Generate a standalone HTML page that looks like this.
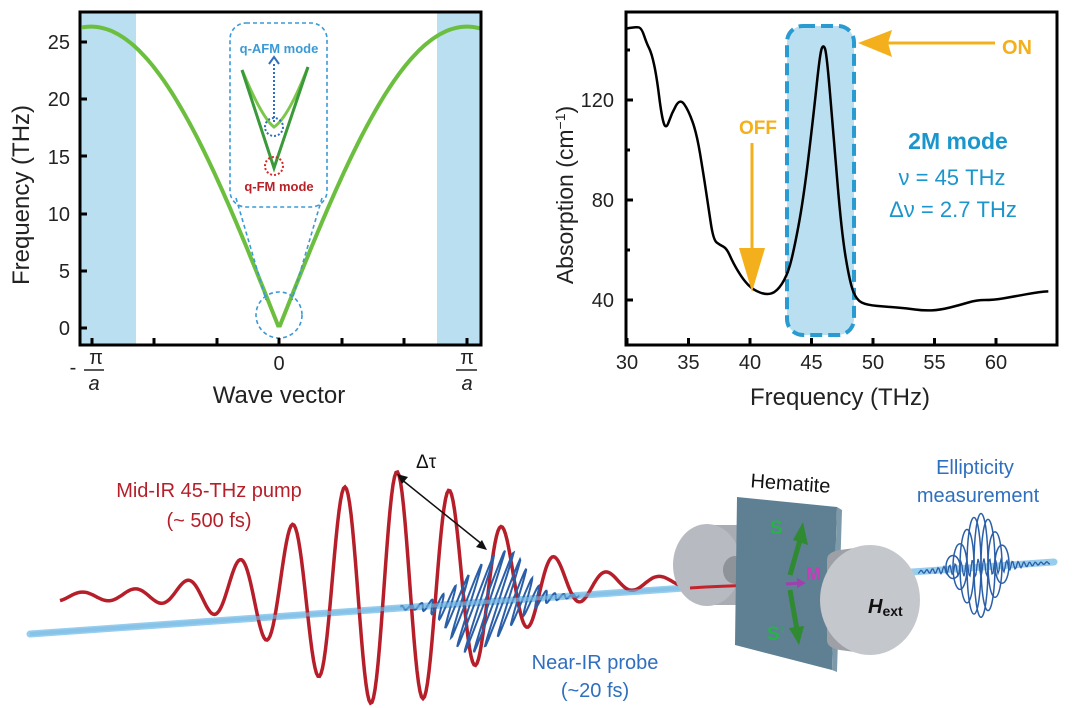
<!DOCTYPE html>
<html><head><meta charset="utf-8">
<style>
html,body{margin:0;padding:0;background:#fff;}
svg{display:block;}
text{font-family:"Liberation Sans",Arial,sans-serif;}
</style></head>
<body>
<svg id="s" width="1080" height="708" viewBox="0 0 1080 708" xmlns="http://www.w3.org/2000/svg">
<!-- LEFT PANEL -->
<rect x="80" y="12" width="56" height="333" fill="#b9dff0"/>
<rect x="437" y="12" width="44" height="333" fill="#b9dff0"/>
<path id="disp" fill="none" stroke="#6cbf3e" stroke-width="4"/>
<!-- inset -->
<rect x="230" y="23" width="97" height="184" rx="16" fill="none" stroke="#3a9ad6" stroke-width="1.6" stroke-dasharray="4,3"/>
<line x1="236" y1="198" x2="266" y2="300" stroke="#3a9ad6" stroke-width="1.6" stroke-dasharray="4,3"/>
<line x1="322" y1="198" x2="292" y2="300" stroke="#3a9ad6" stroke-width="1.6" stroke-dasharray="4,3"/>
<circle cx="279" cy="315" r="23" fill="none" stroke="#3a9ad6" stroke-width="1.6" stroke-dasharray="4,3"/>
<path d="M242,70 Q262,118 274,127 Q288,118 308,67" fill="none" stroke="#7cc64a" stroke-width="3"/>
<path d="M242,70 L274,168 L308,67" fill="none" stroke="#3a9a3a" stroke-width="3"/>
<line x1="274" y1="122" x2="274" y2="64" stroke="#2f6fbf" stroke-width="2" stroke-dasharray="2,2"/>
<path d="M269,64 L274,57 L279,64" fill="none" stroke="#2f6fbf" stroke-width="2"/>
<circle cx="274" cy="127" r="9" fill="none" stroke="#2f6fbf" stroke-width="2" stroke-dasharray="2,2"/>
<circle cx="274" cy="166" r="9" fill="none" stroke="#d52b2b" stroke-width="2" stroke-dasharray="2,2"/>
<text x="279" y="53" font-size="13" font-weight="bold" fill="#3a9ad6" text-anchor="middle">q-AFM mode</text>
<text x="279" y="191" font-size="13" font-weight="bold" fill="#b52328" text-anchor="middle">q-FM mode</text>
<rect x="80" y="12" width="401" height="333" fill="none" stroke="#000" stroke-width="3"/>
<g id="lt" stroke="#000" stroke-width="3"></g>
<g font-size="20" fill="#222" text-anchor="end">
<text x="70" y="49">25</text><text x="70" y="106">20</text><text x="70" y="164">15</text>
<text x="70" y="221">10</text><text x="70" y="278">5</text><text x="70" y="335">0</text>
</g>
<text transform="translate(29,195) rotate(-90)" font-size="24" fill="#222" text-anchor="middle">Frequency (THz)</text>
<text x="279" y="370" font-size="20" fill="#222" text-anchor="middle">0</text>
<g font-size="20" fill="#222" text-anchor="middle">
<text x="96" y="364">π</text><line x1="84" y1="370" x2="104" y2="370" stroke="#222" stroke-width="1.5"/><text x="94" y="390" font-style="italic">a</text>
<text x="73" y="374">-</text>
<text x="467" y="364">π</text><line x1="456" y1="370" x2="477" y2="370" stroke="#222" stroke-width="1.5"/><text x="467" y="390" font-style="italic">a</text>
</g>
<text x="279" y="403" font-size="24" fill="#222" text-anchor="middle">Wave vector</text>

<!-- RIGHT PANEL -->
<rect x="787" y="26" width="67" height="309" rx="16" fill="#b9dff0" stroke="#2a9bd0" stroke-width="4" stroke-dasharray="12,6"/>
<path id="abs" fill="none" stroke="#000" stroke-width="2.5"/>
<rect x="626" y="12" width="431" height="333" fill="none" stroke="#000" stroke-width="3"/>
<g id="rt" stroke="#000" stroke-width="3"></g>
<g font-size="20" fill="#222" text-anchor="end">
<text x="614" y="107">120</text><text x="614" y="207">80</text><text x="614" y="307">40</text>
</g>
<g font-size="20" fill="#222" text-anchor="middle" id="rx"></g>
<text transform="translate(573,195) rotate(-90)" font-size="23" fill="#222" text-anchor="middle">Absorption (cm<tspan dy="-8" font-size="14">−1</tspan><tspan dy="8">)</tspan></text>
<text x="840" y="405" font-size="24" fill="#222" text-anchor="middle">Frequency (THz)</text>
<text x="758" y="134" font-size="19" font-weight="bold" fill="#f4b01c" text-anchor="middle">OFF</text>
<line x1="752" y1="143" x2="752" y2="255" stroke="#f4b01c" stroke-width="3"/>
<path d="M739,248 L765,248 L752,292 Z" fill="#f4b01c"/>
<line x1="995" y1="43" x2="885" y2="43" stroke="#f4b01c" stroke-width="3"/>
<path d="M858,43 L892,30 L888,43 L892,57 Z" fill="#f4b01c"/>
<text x="1017" y="54" font-size="20" font-weight="bold" fill="#f4b01c" text-anchor="middle">ON</text>
<g fill="#1b96cc" text-anchor="middle">
<text x="958" y="149" font-size="23" font-weight="bold">2M mode</text>
<text x="952" y="185" font-size="22">ν = 45 THz</text>
<text x="953" y="217" font-size="22">Δν = 2.7 THz</text>
</g>

<!-- BOTTOM DIAGRAM -->
<line x1="30" y1="634" x2="1054" y2="562" stroke="#8cc8ec" stroke-width="7" stroke-linecap="round" opacity="0.9"/>
<path id="red" fill="none" stroke="#b61f2a" stroke-width="3.5"/>
<path id="probe" fill="none" stroke="#2a5fa8" stroke-width="2"/>
<line x1="30" y1="634" x2="740" y2="584" stroke="#7dbde6" stroke-width="4" opacity="0.6"/>
<line x1="401" y1="479" x2="483" y2="545" stroke="#111" stroke-width="1.5"/>
<path d="M397,474 L408,477 L402,484 Z M487,550 L476,547 L482,540 Z" fill="#111"/>
<text x="416" y="468" font-size="19" fill="#111">Δτ</text>
<g fill="#b61f2a" font-size="20" text-anchor="middle">
<text x="209" y="497">Mid-IR 45-THz pump</text>
<text x="209" y="527">(~ 500 fs)</text>
</g>
<g fill="#2f6fbf" font-size="20" text-anchor="middle">
<text x="595" y="669">Near-IR probe</text>
<text x="595" y="697">(~20 fs)</text>
<text x="975" y="474">Ellipticity</text>
<text x="978" y="502">measurement</text>
</g>
<!-- left magnet -->
<path d="M707,525 L740,525 L740,605 L707,605 Z" fill="#a9adb3"/>
<ellipse cx="707" cy="565" rx="34" ry="41" fill="#b7bbc1"/>
<ellipse cx="735" cy="570" rx="12" ry="14" fill="#8e9399"/>
<!-- red arrow into plate -->
<path d="M690,588 Q720,586 765,585" fill="none" stroke="#c4232c" stroke-width="3"/>
<path d="M740,577 L770,584 L742,592 Z" fill="#d0262e"/>
<!-- plate -->
<path d="M737,497 L837,507 L832,670 L735,645 Z" fill="#5f7f93"/>
<path d="M837,507 L842,510 L837,672 L832,670 Z" fill="#7d9aab"/>
<text transform="translate(790,490) rotate(4)" font-size="20" fill="#111" text-anchor="middle">Hematite</text>
<line x1="790" y1="575" x2="800" y2="540" stroke="#2f8a32" stroke-width="5"/>
<path d="M793,540 L803,522 L808,545 Z" fill="#2f8a32"/>
<line x1="790" y1="590" x2="797" y2="630" stroke="#2f8a32" stroke-width="5"/>
<path d="M789,628 L799,645 L804,626 Z" fill="#2f8a32"/>
<line x1="786" y1="584" x2="800" y2="583" stroke="#a040b0" stroke-width="3"/>
<path d="M797,578 L806,583 L797,588 Z" fill="#a040b0"/>
<text x="770" y="534" font-size="19" font-weight="bold" fill="#29b24a">S<tspan dy="-8" font-size="10">↑</tspan></text>
<text x="767" y="640" font-size="19" font-weight="bold" fill="#29b24a">S<tspan dy="-8" font-size="10">↓</tspan></text>
<text x="806" y="580" font-size="18" font-weight="bold" fill="#c040b8">M</text>
<!-- right magnet -->
<path d="M827,560 Q827,552 840,550 L870,546 L870,654 L840,650 Q827,648 827,640 Z" fill="#9da1a7"/>
<ellipse cx="870" cy="600" rx="50" ry="55" fill="#c4c7cc"/>
<text x="868" y="613" font-size="20" font-weight="bold" font-style="italic" fill="#111">H<tspan font-size="14" font-style="normal" dy="3">ext</tspan></text>
<g id="ell" fill="none" stroke="#2a5fa8" stroke-width="1.5"></g>
<path id="ellw" fill="none" stroke="#2a5fa8" stroke-width="1.3"/>
</svg>
<script>
function P(pts){return pts.map((p,i)=>(i?'L':'M')+p[0].toFixed(1)+','+p[1].toFixed(1)).join(' ');}
var d=[];for(var x=82;x<=480;x+=2){var f=26.3*Math.sin(Math.PI/2*Math.min(Math.abs(x-279)/188,1.07));d.push([x,328-f*11.46]);}
document.getElementById('disp').setAttribute('d',P(d));
var lt=document.getElementById('lt'),h='';
[42,99,156,214,271,328].forEach(y=>h+='<line x1="80" y1="'+y+'" x2="87" y2="'+y+'"/>');
[92,154,217,279,342,404,467].forEach(x=>h+='<line x1="'+x+'" y1="345" x2="'+x+'" y2="338"/>');
lt.innerHTML=h;
var z=[[262,85],[290,80],[305,85],[320,130],[335,160],[350,230],[365,350],[378,390],[395,340],[420,295],[445,330],[470,400],[490,520],[505,620],[520,720],[540,735],[560,745],[580,790],[610,840],[640,870],[680,885],[710,875],[740,830],[760,760],[790,600],[820,350],[840,160],[850,132],[860,160],[880,400],[905,700],[930,850],[950,900],[980,915],[1040,920],[1100,925],[1150,932],[1200,930],[1260,915],[1310,900],[1360,900],[1420,890],[1500,875],[1550,873]];
var a='M'+(z[0][0]/3+540)+','+(z[0][1]/3);
for(var i=1;i<z.length-1;i++){var mx=(z[i][0]+z[i+1][0])/6+540,my=(z[i][1]+z[i+1][1])/6;a+=' Q'+(z[i][0]/3+540)+','+(z[i][1]/3)+' '+mx+','+my;}
document.getElementById('abs').setAttribute('d',a);
var rt=document.getElementById('rt'),rx=document.getElementById('rx');h='';var t='';
for(var v=30;v<=60;v+=5){var X=627+(v-30)*12.3;h+='<line x1="'+X+'" y1="345" x2="'+X+'" y2="338"/>';t+='<text x="'+X+'" y="369">'+v+'</text>';}
[100,200,300].forEach(y=>h+='<line x1="626" y1="'+y+'" x2="633" y2="'+y+'"/>');
[50,150,250].forEach(y=>h+='<line x1="626" y1="'+y+'" x2="630" y2="'+y+'"/>');
rt.innerHTML=h;rx.innerHTML=t;
// red pump
var r=[];for(var x=60;x<=700;x+=1.5){var c=597-(x-60)*0.025;var A=113*Math.exp(-Math.pow((x-392)/130,2))+4;r.push([x,c-A*Math.cos(2*Math.PI*(x-397)/52.5)]);}
document.getElementById('red').setAttribute('d',P(r));
// probe
var p=[];for(var x=400;x<=580;x+=0.6){var c=634-(x-30)*72/1025;var A=50*Math.exp(-Math.pow((x-488)/38,2))+1.5;var s=Math.sin(2*Math.PI*x/9.5);p.push([x+0.35*A*s,c-A*s]);}
document.getElementById('probe').setAttribute('d',P(p));
var e='';for(var i=0;i<8;i++){var cx=953+i*7;var ry=52*Math.exp(-Math.pow((cx-980)/22,2));e+='<ellipse cx="'+cx+'" cy="'+(567-i*0.4)+'" rx="7" ry="'+ry.toFixed(1)+'"/>';}
document.getElementById('ell').innerHTML=e;
var w=[];for(var x=918;x<=1050;x+=1){var c=572-(x-918)*0.07;var A=8*Math.exp(-Math.pow((x-980)/35,2))+1;w.push([x,c-A*Math.sin(x*1.1)]);}
document.getElementById('ellw').setAttribute('d',P(w));
</script>
</body></html>
